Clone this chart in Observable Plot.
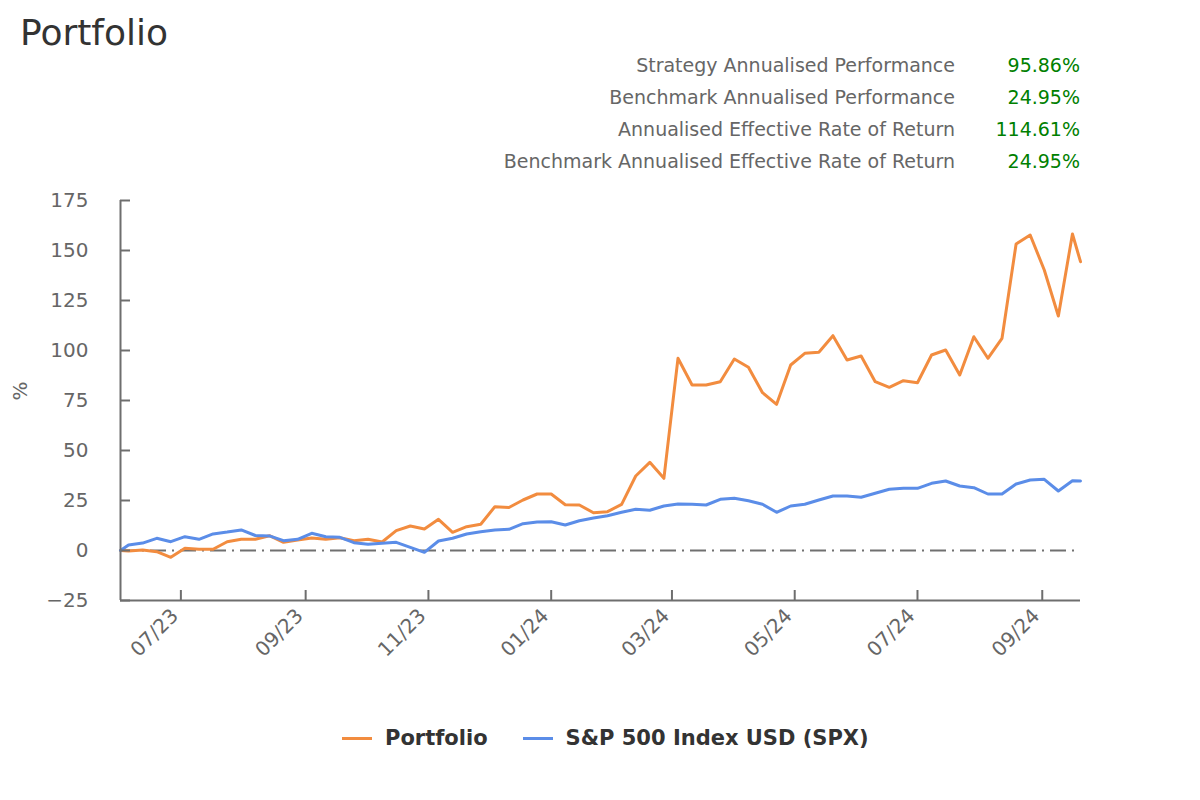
<!DOCTYPE html>
<html>
<head>
<meta charset="utf-8">
<script src="https://cdn.jsdelivr.net/npm/d3@7"></script>
<script src="https://cdn.jsdelivr.net/npm/@observablehq/plot@0.6"></script>
<style>
  html, body { margin: 0; padding: 0; background: #fff; }
  #page { position: relative; width: 1200px; height: 800px; overflow: hidden; font-family: "DejaVu Sans", sans-serif; }
  #title { position: absolute; left: 20px; top: 12px; font-size: 36px; color: #333; }
  .stat-label { position: absolute; right: 245px; font-size: 19px; color: #666; white-space: nowrap; }
  .stat-value { position: absolute; right: 120px; font-size: 19px; color: #008000; white-space: nowrap; }
  #chart { position: absolute; left: 0; top: 180px; }
  #legend { position: absolute; left: 342px; top: 726px; display: flex; align-items: center; font-size: 21px; font-weight: bold; color: #333; white-space: nowrap; }
  .sw { display: inline-block; width: 30px; height: 3px; margin-right: 13px; }
  .item { display: flex; align-items: center; margin-right: 35px; }
</style>
</head>
<body>
<div id="page">
  <div id="title">Portfolio</div>
  <div id="stats"></div>
  <div id="chart"></div>
  <div id="legend"></div>
</div>
<script>
const dates = [
  "2023-06-01","2023-06-05","2023-06-12","2023-06-19","2023-06-26",
  "2023-07-03","2023-07-10","2023-07-17","2023-07-24","2023-07-31",
  "2023-08-07","2023-08-14","2023-08-21","2023-08-28",
  "2023-09-04","2023-09-11","2023-09-18","2023-09-25",
  "2023-10-02","2023-10-09","2023-10-16","2023-10-23","2023-10-30",
  "2023-11-06","2023-11-13","2023-11-20","2023-11-27",
  "2023-12-04","2023-12-11","2023-12-18","2023-12-25",
  "2024-01-01","2024-01-08","2024-01-15","2024-01-22","2024-01-29",
  "2024-02-05","2024-02-12","2024-02-19","2024-02-26",
  "2024-03-04","2024-03-11","2024-03-18","2024-03-25",
  "2024-04-01","2024-04-08","2024-04-15","2024-04-22","2024-04-29",
  "2024-05-06","2024-05-13","2024-05-20","2024-05-27",
  "2024-06-03","2024-06-10","2024-06-17","2024-06-24",
  "2024-07-01","2024-07-08","2024-07-15","2024-07-22","2024-07-29",
  "2024-08-05","2024-08-12","2024-08-19","2024-08-26",
  "2024-09-02","2024-09-09","2024-09-16","2024-09-20"
];
const portfolio = [
  0, -0.2, 0.3, -0.6, -3.4, 1.1, 0.6, 0.6, 4.4, 5.6,
  5.6, 7.4, 4.1, 5.2, 6.3, 5.6, 6.4, 4.9, 5.6, 4.25,
  9.9, 12.25, 10.75, 15.6, 9.1, 11.9, 13.1, 21.9, 21.5, 25.25,
  28.25, 28.25, 22.9, 22.75, 18.9, 19.4, 23.1, 37.25, 44.1, 36.1,
  96.1, 82.75, 82.75, 84.4, 95.75, 91.6, 78.9, 73.1, 92.75, 98.6,
  99.1, 107.4, 95.25, 97.25, 84.4, 81.6, 84.9, 83.9, 97.75, 100.25,
  87.75, 106.9, 96.1, 106.1, 153.25, 157.75, 140.25, 117.25, 158.25, 144.4
];
const spx = [
  0, 2.8, 3.7, 6.1, 4.4, 6.9, 5.6, 8.3, 9.2, 10.3,
  7.5, 7.3, 4.9, 5.6, 8.6, 6.9, 6.6, 3.9, 3.1, 3.6,
  4.1, 1.6, -0.9, 4.75, 6.1, 8.25, 9.4, 10.25, 10.6, 13.4,
  14.25, 14.4, 12.75, 14.9, 16.25, 17.4, 19.1, 20.6, 20.1, 22.25,
  23.25, 23.1, 22.75, 25.6, 26.1, 24.9, 23.1, 19.1, 22.25, 23.1,
  25.25, 27.25, 27.25, 26.6, 28.6, 30.6, 31.1, 31.1, 33.6, 34.75,
  32.25, 31.4, 28.25, 28.25, 33.25, 35.25, 35.6, 29.75, 34.9, 34.75
];
const seriesNames = ["Portfolio", "S&P 500 Index USD (SPX)"];
const seriesColors = ["#f28c3f", "#5b8de8"];
const yTicks = [-25, 0, 25, 50, 75, 100, 125, 150, 175];
const xTicks = ["2023-07-01","2023-09-01","2023-11-01","2024-01-01","2024-03-01","2024-05-01","2024-07-01","2024-09-01"];
const statLabels = [
  "Strategy Annualised Performance",
  "Benchmark Annualised Performance",
  "Annualised Effective Rate of Return",
  "Benchmark Annualised Effective Rate of Return"
];
const statValues = ["95.86%", "24.95%", "114.61%", "24.95%"];

// stats block
const stats = document.getElementById("stats");
statLabels.forEach((t, i) => {
  const top = 54 + i * 32;
  const l = document.createElement("div");
  l.className = "stat-label"; l.style.top = top + "px"; l.textContent = t;
  const v = document.createElement("div");
  v.className = "stat-value"; v.style.top = top + "px"; v.textContent = statValues[i];
  stats.appendChild(l); stats.appendChild(v);
});

// legend
const legend = document.getElementById("legend");
seriesNames.forEach((n, i) => {
  const item = document.createElement("div");
  item.className = "item";
  const sw = document.createElement("span");
  sw.className = "sw"; sw.style.background = seriesColors[i];
  const tx = document.createElement("span");
  tx.textContent = n;
  item.appendChild(sw); item.appendChild(tx);
  legend.appendChild(item);
});

const parse = d3.utcParse("%Y-%m-%d");
const data = [];
dates.forEach((d, i) => {
  data.push({date: parse(d), value: portfolio[i], series: seriesNames[0]});
});
dates.forEach((d, i) => {
  data.push({date: parse(d), value: spx[i], series: seriesNames[1]});
});
const xTickDates = xTicks.map(parse);
const x0 = parse(dates[0]);
const x1 = parse(dates[dates.length - 1]);
const axisColor = "#6e6e6e";

const chart = Plot.plot({
  width: 1200,
  height: 520,
  marginTop: 20,
  marginBottom: 100,
  marginLeft: 120,
  marginRight: 120,
  style: {fontFamily: "DejaVu Sans, sans-serif", fontSize: "20px", color: "#666", background: "transparent"},
  x: {type: "utc", domain: [x0, x1]},
  y: {domain: [-25, 175]},
  color: {domain: seriesNames, range: seriesColors},
  marks: [
    Plot.ruleY([0], {stroke: "#707070", strokeWidth: 2, strokeDasharray: "16,6,2,6"}),
    Plot.line(data, {x: "date", y: "value", z: "series", stroke: "series", strokeWidth: 3, strokeLinejoin: "round"}),
    Plot.ruleX([x0], {stroke: axisColor, strokeWidth: 2}),
    Plot.ruleY([-25], {stroke: axisColor, strokeWidth: 2}),
    Plot.ruleY(yTicks, {stroke: axisColor, strokeWidth: 2, insetRight: 950}),
    Plot.ruleX(xTickDates, {stroke: axisColor, strokeWidth: 2, insetTop: 390}),
    Plot.axisY({ticks: yTicks, tickSize: 0, tickPadding: 32, fontSize: 20, fill: "#666", label: null}),
    Plot.axisX({ticks: xTickDates, tickFormat: d3.utcFormat("%m/%y"), tickSize: 0, tickPadding: 12, tickRotate: -45, dx: -6, fontSize: 20, fill: "#666", label: null}),
    Plot.text(["%"], {frameAnchor: "left", dx: -100, rotate: -90, fontSize: 20, fill: "#666"})
  ]
});
document.getElementById("chart").appendChild(chart);
</script>
</body>
</html>
